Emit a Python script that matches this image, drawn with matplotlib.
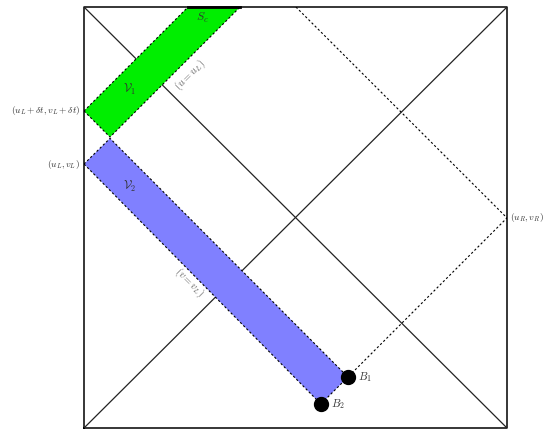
import matplotlib
matplotlib.use("Agg")
import matplotlib.pyplot as plt
from matplotlib.patches import Polygon

plt.rcParams["mathtext.fontset"] = "cm"
plt.rcParams["font.family"] = "serif"

# diagram points in units of the square (0..1), y upwards
green_band = [(0.0, 0.753), (0.0615, 0.691), (0.369, 1.0), (0.246, 1.0)]
blue_band = [(0.0, 0.627), (0.0615, 0.688), (0.624, 0.121), (0.560, 0.057)]
dashed_path = [(0.501, 1.0), (1.0, 0.499), (0.624, 0.121)]
dots = [(0.624, 0.121), (0.560, 0.057)]
dot_names = [r"$B_1$", r"$B_2$"]

fig = plt.figure(figsize=(5.43, 4.29), dpi=100)
ax = fig.add_axes([84 / 543, 1 / 429, 423 / 543, 421 / 429])
ax.set_xlim(0, 1)
ax.set_ylim(0, 1)
ax.axis("off")

# square and diagonals
ax.plot([0, 1, 1, 0, 0], [0, 0, 1, 1, 0], color="black", lw=1.1, clip_on=False)
ax.plot([0, 1], [0, 1], color="#222222", lw=0.9)
ax.plot([0, 1], [1, 0], color="#222222", lw=0.9)

# bands
ax.add_patch(Polygon(green_band, closed=True, facecolor="#00ee00", edgecolor="black",
                     lw=0.8, linestyle=(0, (2, 2)), zorder=2))
ax.add_patch(Polygon(blue_band, closed=True, facecolor="#8080ff", edgecolor="black",
                     lw=0.8, linestyle=(0, (2, 2)), zorder=2))
# top edge of the green band on the boundary
ax.plot([green_band[3][0], green_band[2][0]], [1, 1], color="black", lw=2.0,
        clip_on=False, zorder=3)

xs, ys = zip(*dashed_path)
ax.plot(xs, ys, color="black", lw=0.8, linestyle=(0, (2, 2)), zorder=2)

for (x, y), name in zip(dots, dot_names):
    ax.plot(x, y, "o", color="black", ms=10, zorder=4)
    ax.text(x + 0.024, y, name, fontsize=8, va="center", ha="left", color="#333333")

# labels
lab = dict(fontsize=6.8, va="center", color="#333333")
ax.text(-0.009, 0.753, r"$(u_L+\delta t, v_L+\delta t)$", ha="right", **lab)
ax.text(-0.009, 0.627, r"$(u_L, v_L)$", ha="right", **lab)
ax.text(1.006, 0.499, r"$(u_R, v_R)$", ha="left", **lab)
ax.text(0.279, 0.974, r"$S_c$", fontsize=8.5, ha="center", va="center", color="#333333")
ax.text(0.109, 0.803, r"$\mathcal{V}_1$", fontsize=8.5, ha="center", va="center",
        color="#333333")
ax.text(0.109, 0.573, r"$\mathcal{V}_2$", fontsize=8.5, ha="center", va="center",
        color="#333333")
ax.text(0.250, 0.838, r"$(u = u_L)$", fontsize=7.5, ha="center", va="center",
        rotation=45, color="#666666")
ax.text(0.250, 0.346, r"$(v = v_L)$", fontsize=7.5, ha="center", va="center",
        rotation=-45, color="#666666")

fig.savefig("out.png", dpi=100)
